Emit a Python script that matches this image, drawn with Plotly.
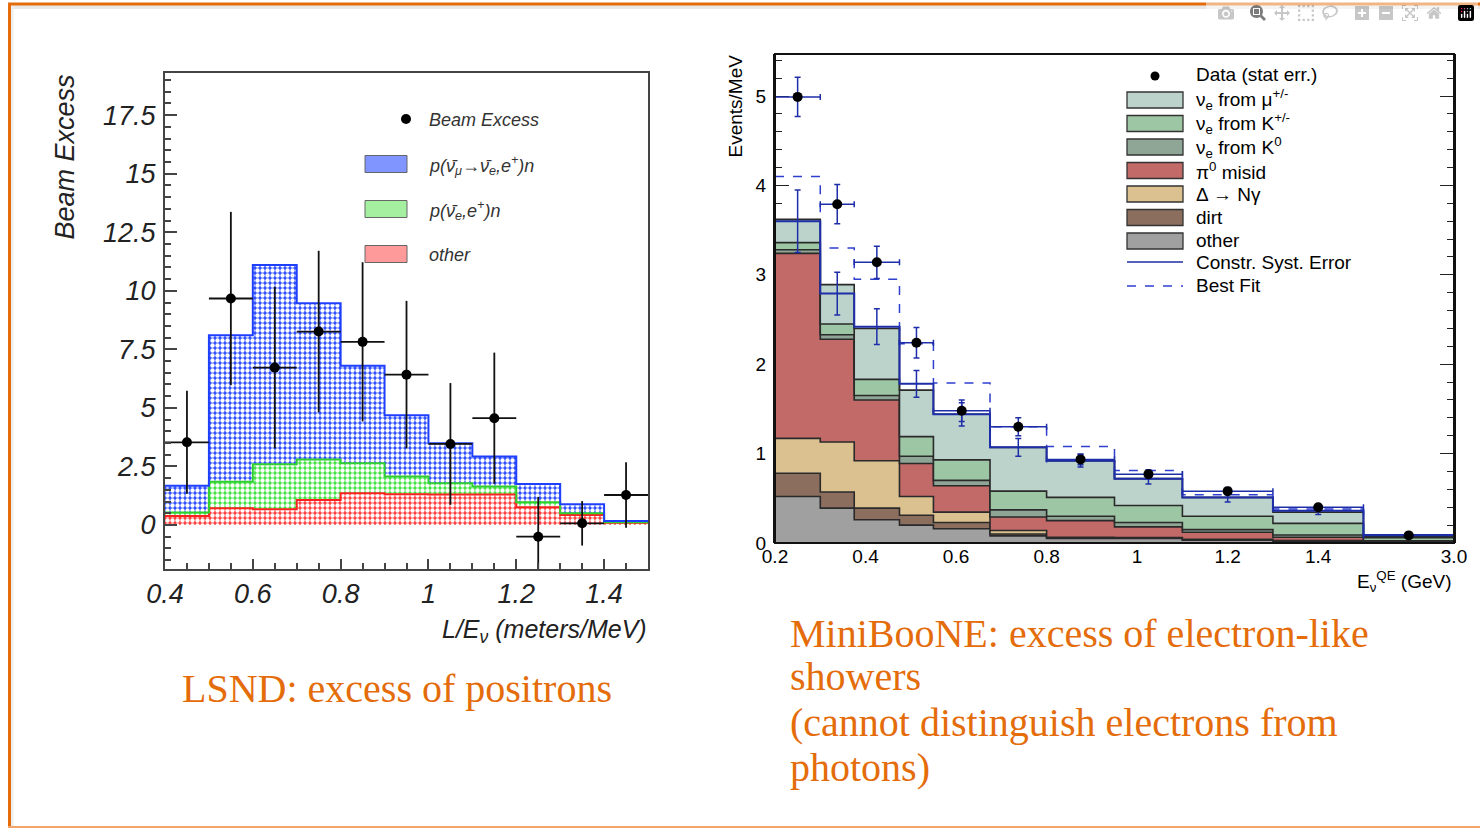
import numpy as np
import plotly.graph_objects as go

W, H = 1480, 828
def px(x): return x / W
def py(y): return 1 - y / H

# ---------------- LSND data ----------------
lsnd_edges = [0.4, 0.5, 0.6, 0.7, 0.8, 0.9, 1.0, 1.1, 1.2, 1.3, 1.4, 1.5]
lsnd_other = [0.38, 0.71, 0.67, 1.07, 1.35, 1.31, 1.30, 1.30, 0.76, 0.43, 0.10]
lsnd_nuebar = [0.15, 1.14, 1.92, 1.73, 1.29, 0.76, 0.48, 0.34, 0.21, 0.07, 0.02]
lsnd_osc = [1.15, 6.25, 8.51, 6.67, 4.16, 2.62, 1.71, 1.28, 0.78, 0.38, 0.05]
lsnd_excess = [3.53, 9.67, 6.72, 8.26, 7.82, 6.42, 3.46, 4.56, -0.50, 0.07, 1.28]
lsnd_excess_err = [2.2, 3.7, 3.45, 3.45, 3.4, 3.15, 2.6, 2.8, 1.7, 0.95, 1.4]
lsnd_xticks = [0.4, 0.6, 0.8, 1.0, 1.2, 1.4]
lsnd_xticklabels = ["0.4", "0.6", "0.8", "1", "1.2", "1.4"]

# ---------------- MiniBooNE data ----------------
mb_edges = [0.2, 0.3, 0.375, 0.475, 0.55, 0.675, 0.8, 0.95, 1.1, 1.3, 1.5, 3.0]
mb_other = [0.52, 0.39, 0.26, 0.20, 0.16, 0.08, 0.05, 0.05, 0.03, 0.02, 0.01]
mb_dirt = [0.26, 0.18, 0.13, 0.11, 0.07, 0.02, 0.01, 0.005, 0.005, 0.005, 0.002]
mb_delta = [0.39, 0.56, 0.53, 0.21, 0.115, 0.04, 0.005, 0.005, 0.005, 0.003, 0.002]
mb_pi0 = [2.07, 1.15, 0.68, 0.37, 0.295, 0.15, 0.185, 0.12, 0.08, 0.037, 0.006]
mb_k0 = [0.04, 0.05, 0.05, 0.08, 0.06, 0.08, 0.05, 0.05, 0.03, 0.025, 0.005]
mb_kpm = [0.08, 0.12, 0.18, 0.22, 0.23, 0.21, 0.21, 0.19, 0.15, 0.13, 0.035]
mb_mu = [0.26, 0.44, 0.57, 0.52, 0.51, 0.49, 0.41, 0.30, 0.21, 0.125, 0.01]
mb_syst = [3.60, 2.79, 2.42, 1.78, 1.44, 1.07, 0.92, 0.72, 0.51, 0.36, 0.09]
mb_syst_err = [0.35, 0.24, 0.20, 0.15, 0.13, 0.10, 0.07, 0.06, 0.05, 0.04, 0.02]
mb_bestfit = [4.10, 3.30, 2.95, 2.23, 1.79, 1.30, 1.08, 0.81, 0.54, 0.38, 0.09]
mb_data = [4.99, 3.79, 3.14, 2.24, 1.48, 1.30, 0.935, 0.77, 0.58, 0.40, 0.085]
mb_data_err = [0.22, 0.22, 0.18, 0.17, 0.12, 0.10, 0.06, 0.05, 0.04, 0.03, 0.02]
mb_xticks = [0.2, 0.4, 0.6, 0.8, 1.0, 1.2, 1.4, 3.0]
mb_xticklabels = ["0.2", "0.4", "0.6", "0.8", "1", "1.2", "1.4", "3.0"]

mb_names = ["other", "dirt", "Δ → Nγ", "π<sup>0</sup> misid",
            "ν<sub>e</sub> from K<sup>0</sup>", "ν<sub>e</sub> from K<sup>+/-</sup>",
            "ν<sub>e</sub> from μ<sup>+/-</sup>"]
mb_colors = ["#a0a0a0", "#8b6e5e", "#dbc090", "#c16a68", "#8fa596", "#9dc6a5", "#bcd3cb"]

ORANGE = "#E46C0A"
SANS = "Liberation Sans, Arial, sans-serif"
SERIF = "Liberation Serif, Times New Roman, serif"

fig = go.Figure()

# ---------------- LSND plot ----------------
le = np.array(lsnd_edges)
lc = (le[:-1] + le[1:]) / 2
lw = np.diff(le)
lsnd_layers = [("other", lsnd_other, "#ff3b3b"),
               ("p(ν̄<sub>e</sub>,e<sup>+</sup>)n", lsnd_nuebar, "#3ee23e"),
               ("p(ν̄<sub>μ</sub>→ν̄<sub>e</sub>,e<sup>+</sup>)n", lsnd_osc, "#2a4bff")]
for name, vals, col in lsnd_layers:
    fig.add_trace(go.Bar(
        x=lc, y=vals, width=lw, name=name, xaxis="x", yaxis="y",
        marker=dict(color=col, line=dict(width=0),
                    pattern=dict(shape=".", fgcolor="white", bgcolor=col,
                                 size=5, solidity=0.6, fillmode="replace")),
        showlegend=False))
cum = np.cumsum([lsnd_other, lsnd_nuebar, lsnd_osc], axis=0)
for row, col in zip(cum, ["#ff2020", "#30d030", "#1f3fff"]):
    fig.add_trace(go.Scatter(x=le, y=list(row) + [row[-1]], mode="lines",
                             line=dict(shape="hv", color=col, width=2),
                             xaxis="x", yaxis="y", showlegend=False, hoverinfo="skip"))
fig.add_trace(go.Scatter(
    x=lc, y=lsnd_excess, mode="markers", name="Beam Excess", xaxis="x", yaxis="y",
    marker=dict(color="black", size=10),
    error_y=dict(type="data", array=lsnd_excess_err, color="#111", thickness=1.8, width=0),
    error_x=dict(type="data", array=list(lw / 2), color="#111", thickness=1.8, width=0),
    showlegend=False))

# ---------------- MiniBooNE plot ----------------
def disp(e):
    e = np.asarray(e, dtype=float)
    return np.where(e <= 1.5, e, 1.5 + (e - 1.5) * 0.2 / 1.5)

me = disp(mb_edges)
mc = (me[:-1] + me[1:]) / 2
mhw = np.diff(me) / 2
stack = np.cumsum([mb_other, mb_dirt, mb_delta, mb_pi0, mb_k0, mb_kpm, mb_mu], axis=0)
for i, (row, name, col) in enumerate(zip(stack, mb_names, mb_colors)):
    fig.add_trace(go.Scatter(
        x=me, y=list(row) + [row[-1]], mode="lines", name=name,
        line=dict(shape="hv", color="#2a2a2a", width=1.6),
        fill="tozeroy" if i == 0 else "tonexty", fillcolor=col,
        xaxis="x2", yaxis="y2", showlegend=False, hoverinfo="skip"))
fig.add_trace(go.Scatter(
    x=me, y=mb_bestfit + [mb_bestfit[-1]], mode="lines", name="Best Fit",
    line=dict(shape="hv", color="#2f3fd0", width=1.5, dash="dash"),
    xaxis="x2", yaxis="y2", showlegend=False))
fig.add_trace(go.Scatter(
    x=me, y=mb_syst + [mb_syst[-1]], mode="lines", name="Constr. Syst. Error",
    line=dict(shape="hv", color="#1e2ea8", width=2),
    xaxis="x2", yaxis="y2", showlegend=False))
fig.add_trace(go.Scatter(
    x=mc, y=mb_syst, mode="markers", marker=dict(size=1, color="rgba(0,0,0,0)"),
    error_y=dict(type="data", array=mb_syst_err, color="#1e2ea8", thickness=1.5, width=3),
    xaxis="x2", yaxis="y2", showlegend=False, hoverinfo="skip"))
fig.add_trace(go.Scatter(
    x=mc, y=mb_data, mode="markers", name="Data (stat err.)",
    marker=dict(color="black", size=10),
    error_y=dict(type="data", array=mb_data_err, color="#1e2ea8", thickness=1.5, width=3),
    error_x=dict(type="data", array=list(mhw), color="#1e2ea8", thickness=1.5, width=3),
    xaxis="x2", yaxis="y2", showlegend=False))

# ---------------- Layout ----------------
it = dict(family=SANS, size=27, color="#222", style="italic")
fig.update_layout(
    width=W, height=H, margin=dict(l=0, r=0, t=0, b=0, pad=0, autoexpand=False),
    paper_bgcolor="white", plot_bgcolor="rgba(0,0,0,0)",
    barmode="stack", bargap=0, showlegend=False,
    xaxis=dict(domain=[px(165), px(648)], range=[0.4, 1.5], anchor="y",
               tickvals=lsnd_xticks, ticktext=lsnd_xticklabels, automargin=False,
               ticks="inside", ticklen=10, tickcolor="#444", tickwidth=1.5,
               minor=dict(dtick=0.05, tick0=0.4, ticks="inside", ticklen=6, tickcolor="#444"),
               showline=True, linecolor="#444", linewidth=2, mirror=True,
               showgrid=False, zeroline=False, tickfont=it, ticklabelstandoff=0),
    yaxis=dict(domain=[py(569), py(73)], range=[-1.88, 19.3], anchor="x", automargin=False,
               tick0=0, dtick=2.5, ticks="inside", ticklen=12, tickcolor="#444", tickwidth=1.5,
               minor=dict(dtick=0.5, tick0=0, ticks="inside", ticklen=6, tickcolor="#444"),
               showline=True, linecolor="#444", linewidth=2, mirror=True,
               showgrid=False, zeroline=False, tickfont=it, ticklabelstandoff=2),
    xaxis2=dict(domain=[px(775), px(1454)], range=[0.2, 1.7], anchor="y2", automargin=False,
                tickvals=list(disp(mb_xticks)), ticktext=mb_xticklabels, ticks="",
                showline=False, showgrid=False, zeroline=False,
                tickfont=dict(family=SANS, size=19, color="black"), ticklabelstandoff=0),
    xaxis3=dict(domain=[px(775), px(1454)], range=[0.2, 1.7], anchor="y2", automargin=False,
                overlaying="x2", side="top", tick0=0.2, dtick=0.2,
                ticks="inside", ticklen=12, tickcolor="#222", tickwidth=1.2,
                minor=dict(dtick=0.05, tick0=0.2, ticks="inside", ticklen=7, tickcolor="#222"),
                showticklabels=False, showline=False, showgrid=False, zeroline=False),
    yaxis2=dict(domain=[py(543), py(54)], range=[0, 5.47], anchor="x2", automargin=False,
                tick0=0, dtick=1, ticks="inside", ticklen=14, tickcolor="#222", tickwidth=1.2,
                minor=dict(dtick=0.2, tick0=0, ticks="inside", ticklen=7, tickcolor="#222"),
                showline=True, linecolor="#111", linewidth=2, mirror="ticks",
                layer="below traces", showgrid=False, zeroline=False,
                tickfont=dict(family=SANS, size=19, color="black"), ticklabelstandoff=3),
)

shapes = []
# MiniBooNE frame
shapes.append(dict(type="rect", xref="x2 domain", yref="y2 domain", x0=0, x1=1, y0=0, y1=1,
                   line=dict(color="#111", width=2), layer="above"))
# slide border
shapes.append(dict(type="line", xref="paper", yref="paper", x0=px(9), x1=1, y0=py(7), y1=py(7),
                   line=dict(color="#e8e8e8", width=4)))
shapes.append(dict(type="line", xref="paper", yref="paper", x0=px(12), x1=px(12), y0=0, y1=py(5),
                   line=dict(color="#eeeeee", width=3)))
shapes.append(dict(type="line", xref="paper", yref="paper", x0=px(8), x1=1, y0=py(4), y1=py(4),
                   line=dict(color=ORANGE, width=3)))
shapes.append(dict(type="line", xref="paper", yref="paper", x0=px(9.5), x1=px(9.5), y0=0, y1=py(3),
                   line=dict(color=ORANGE, width=3)))
shapes.append(dict(type="line", xref="paper", yref="paper", x0=px(8), x1=1, y0=py(827), y1=py(827),
                   line=dict(color="#F2A46A", width=2)))

ann = []
def text(x, y, s, size, xanchor="left", yanchor="middle", color="#222", family=SANS,
         style="normal", angle=0):
    ann.append(dict(x=px(x), y=py(y), xref="paper", yref="paper", text=s, showarrow=False,
                    xanchor=xanchor, yanchor=yanchor, textangle=angle,
                    font=dict(family=family, size=size, color=color, style=style)))

# LSND axis titles
text(65, 73, "Beam Excess", 27, xanchor="center", yanchor="top", style="italic", angle=-90)
text(649, 631, "L/E<sub>ν</sub> (meters/MeV)", 25, xanchor="right", style="italic")

# LSND legend
shapes.append(dict(type="circle", xref="paper", yref="paper",
                   x0=px(401), x1=px(411), y0=py(124), y1=py(114),
                   fillcolor="black", line=dict(color="black", width=0)))
text(427, 120, "Beam Excess", 18, style="italic", color="#333")
lsnd_leg = [(164, "#8095ff", lsnd_layers[2][0]),
            (209, "#a5f0a0", lsnd_layers[1][0]),
            (254, "#ff9a9a", lsnd_layers[0][0])]
for yy, col, name in lsnd_leg:
    shapes.append(dict(type="rect", xref="paper", yref="paper",
                       x0=px(365), x1=px(407), y0=py(yy + 8.5), y1=py(yy - 8.5),
                       fillcolor=col, line=dict(color="#666", width=1)))
    text(427, yy + 1, name, 18, style="italic", color="#333")

# MiniBooNE axis titles
text(735, 53, "Events/MeV", 19, xanchor="center", yanchor="top", angle=-90, color="black")
text(1454, 581, "E<sub>ν</sub><sup>QE</sup> (GeV)", 19, xanchor="right", color="black")

# MiniBooNE legend
shapes.append(dict(type="circle", xref="paper", yref="paper",
                   x0=px(1150.5), x1=px(1159.5), y0=py(80.5), y1=py(71.5),
                   fillcolor="black", line=dict(color="black", width=0)))
text(1194, 75, "Data (stat err.)", 19, color="black")
for k in range(7):
    idx = 6 - k
    yy = 100 + 23.5 * k
    shapes.append(dict(type="rect", xref="paper", yref="paper",
                       x0=px(1127), x1=px(1183), y0=py(yy + 8), y1=py(yy - 8),
                       fillcolor=mb_colors[idx], line=dict(color="#333", width=1.3)))
    text(1194, yy, mb_names[idx], 19, color="black")
shapes.append(dict(type="line", xref="paper", yref="paper", x0=px(1127), x1=px(1183),
                   y0=py(262), y1=py(262), line=dict(color="#1e2ea8", width=1.5)))
text(1194, 262, "Constr. Syst. Error", 19, color="black")
shapes.append(dict(type="line", xref="paper", yref="paper", x0=px(1127), x1=px(1183),
                   y0=py(286), y1=py(286), line=dict(color="#2f3fd0", width=1.5, dash="dash")))
text(1194, 285, "Best Fit", 19, color="black")

# captions
text(397, 688, "LSND: excess of positrons", 40, xanchor="center", color=ORANGE, family=SERIF)
cap_lines = ["MiniBooNE: excess of electron-like", "showers",
             "(cannot distinguish electrons from", "photons)"]
for yy, s in zip([633, 676, 722, 767], cap_lines):
    text(788, yy, s, 40, color=ORANGE, family=SERIF)

fig.update_layout(shapes=shapes, annotations=ann)
fig.write_html("out.html", post_script="document.body.style.margin='0px';")
